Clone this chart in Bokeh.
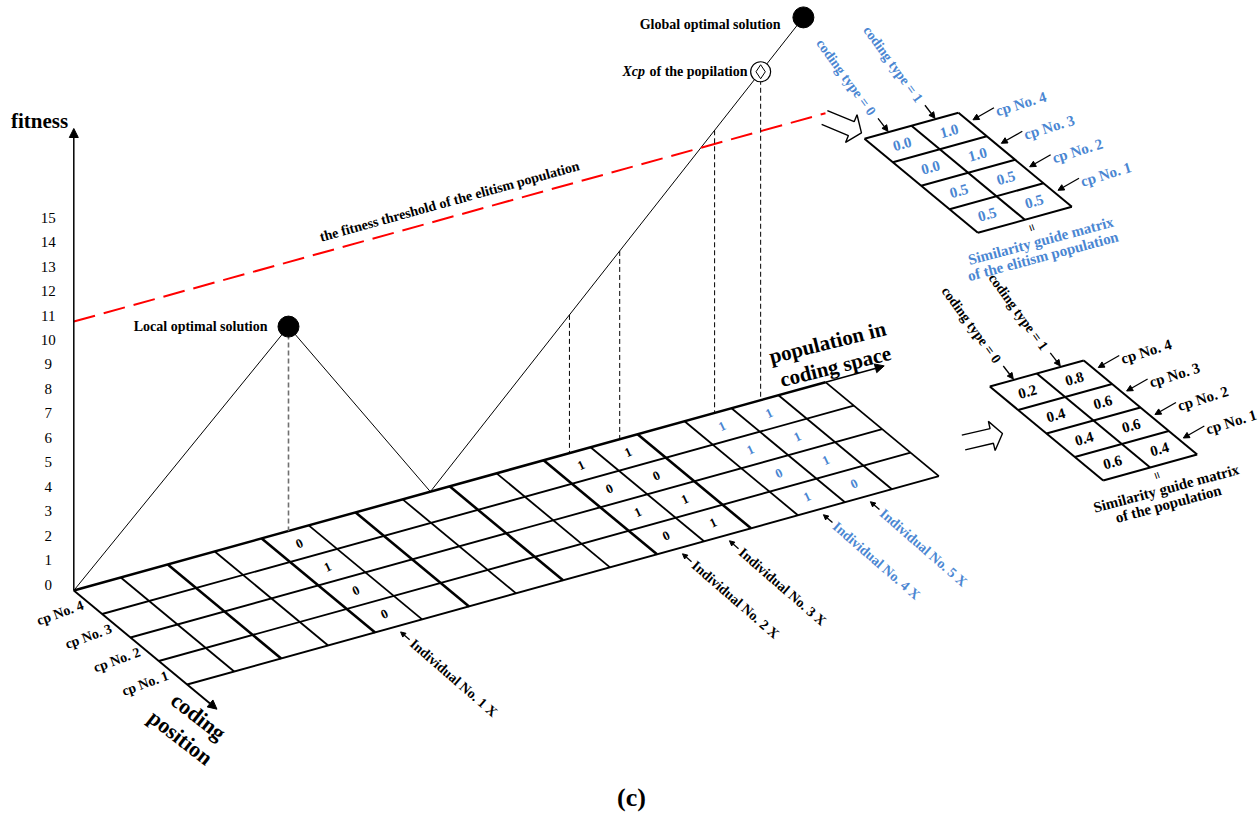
import numpy as np
from bokeh.plotting import figure
from bokeh.models import Range1d, Arrow, NormalHead
from bokeh.core.properties import value
from bokeh.embed import file_html
from bokeh.resources import INLINE

# ---------------- data ----------------
fitness_ticks = list(range(0, 16))
n_slots = 16
cp_names = ["cp No. 4", "cp No. 3", "cp No. 2", "cp No. 1"]
individual_names = ["Individual No. 1 X", "Individual No. 2 X", "Individual No. 3 X",
                    "Individual No. 4 X", "Individual No. 5 X"]
individual_slots = [4, 10, 11, 13, 14]
individual_codes = [[0, 1, 0, 0], [1, 0, 1, 0], [1, 0, 1, 1], [1, 1, 0, 1], [1, 1, 1, 0]]
individual_is_elite = [False, False, False, True, True]
thick_slot_lines = [2, 4, 6, 8, 10, 12]
fitness_curve_pos = [0.0, 4.57, 7.59, 15.53]
fitness_curve_val = [0.0, 8.36, 0.0, 15.17]
fitness_threshold = 11.0
local_opt_pos = 4.57
xcp_pos = 14.62
projection_pos = [10.55, 11.62, 13.64, 14.62]
coding_types = ["coding type = 0", "coding type = 1"]
pop_sim_type0 = [0.2, 0.4, 0.4, 0.6]
pop_sim_type1 = [0.8, 0.6, 0.6, 0.4]
elite_sim_type0 = [0.0, 0.0, 0.5, 0.5]
elite_sim_type1 = [1.0, 1.0, 0.5, 0.5]

BLUE = "#4a86d2"
FONT = value("Liberation Serif")

# ---------------- geometry (reference pixel space, y down) ----------------
W, H = 1258, 813
O = np.array([73.3, 590.0])
CV = np.array([46.98, -13.02])
RV = np.array([28.35, 23.5])
FS = 24.45
ELITE_O = np.array([864.0, 138.3])
POP_O = np.array([989.3, 386.0])


def P(u, r, f=0.0, origin=O):
    q = origin + u * CV + r * RV
    return (float(q[0]), float(q[1] - f * FS))


p = figure(width=W, height=H, x_range=Range1d(0, W), y_range=Range1d(0, H),
           output_backend="svg", toolbar_location=None, min_border=0,
           x_axis_location=None, y_axis_location=None)
p.grid.visible = False
p.outline_line_color = None
p.background_fill_color = "white"
p.border_fill_color = "white"


def line(pts, color="black", width=1.8, dash="solid", alpha=1.0):
    p.line([q[0] for q in pts], [H - q[1] for q in pts], line_color=color,
           line_width=width, line_dash=dash, line_alpha=alpha)


def arrow(a, b, size=8, width=1.5, color="black"):
    p.add_layout(Arrow(end=NormalHead(size=size, fill_color=color, line_color=color, line_width=1),
                       x_start=a[0], y_start=H - a[1], x_end=b[0], y_end=H - b[1],
                       line_width=width, line_color=color))


def txt(pt, s, size=13, angle=0, color="black", align="center", style="bold"):
    p.text(x=[pt[0]], y=[H - pt[1]], text=[s], angle=angle, angle_units="deg",
           text_font=FONT, text_font_style=style, text_font_size=f"{size}px",
           text_color=color, text_align=align, text_baseline="middle")


def add(a, b):
    return (a[0] + b[0], a[1] + b[1])


# ---------------- fitness axis ----------------
arrow(tuple(O), (73.3, 128), size=9, width=1.5)
for v in fitness_ticks:
    txt((47.7, O[1] - v * FS - 6), str(v), size=15, style="normal")
txt((39, 120), "fitness", size=21)

# ---------------- coding grid ----------------
for r in range(1, 5):
    line([P(0, r), P(n_slots, r)], width=1.9)
line([P(0, 0), P(n_slots, 0)], width=2.5)
for u in range(1, n_slots + 1):
    line([P(u, 0), P(u, 4)], width=2.6 if u in thick_slot_lines else 1.8)
arrow(P(0, 0), P(0, 5.05), size=9, width=1.9)
arrow(P(n_slots, 0), P(n_slots + 1.25, 0), size=9, width=1.6)

for ind, (slot, codes) in enumerate(zip(individual_slots, individual_codes)):
    col = BLUE if individual_is_elite[ind] else "black"
    for r, c in enumerate(codes):
        txt(P(slot + 0.5, r + 0.5), str(c), size=13, angle=25, color=col)

for r, name in enumerate(cp_names):
    txt(add(P(0, r + 1), (-42, -1)), name, size=14, angle=20)

ang = np.radians(-41)
d = np.array([np.cos(ang), -np.sin(ang)])
for ind, (slot, name) in enumerate(zip(individual_slots, individual_names)):
    col = BLUE if individual_is_elite[ind] else "black"
    tip = np.array(P(slot + 0.5, 4)) + np.array([2, 6])
    tail = tip + 12 * d
    arrow(tuple(tail), tuple(tip), size=5, width=1.3, color="black")
    txt(tuple(tip + 15 * d), name, size=14, angle=-41, color=col, align="left")

txt((827, 342), "population in", size=21, angle=14)
txt((835, 366), "coding space", size=21, angle=14)
txt((198, 716), "coding", size=22, angle=-38)
txt((180, 737), "position", size=22, angle=-38)

# ---------------- fitness landscape ----------------
curve = [P(u, 0, f) for u, f in zip(fitness_curve_pos, fitness_curve_val)]
line(curve, width=1.0)
line([P(0, 0, fitness_threshold), P(n_slots, 0, fitness_threshold)], color="red", width=2.0, dash="22 9")
txt((449, 201), "the fitness threshold of the elitism population", size=14, angle=15.5)

f_loc = float(np.interp(local_opt_pos, fitness_curve_pos, fitness_curve_val))
line([P(local_opt_pos, 0, f_loc), P(local_opt_pos, 0)], color="#707070", width=1.6, dash="5 3")
for u in projection_pos:
    f = float(np.interp(u, fitness_curve_pos, fitness_curve_val))
    line([P(u, 0, f), P(u, 0)], color="black", width=1.0, dash="5 3")

loc = P(local_opt_pos, 0, f_loc)
glob = P(fitness_curve_pos[-1], 0, fitness_curve_val[-1])
f_xcp = float(np.interp(xcp_pos, fitness_curve_pos, fitness_curve_val))
xcp = P(xcp_pos, 0, f_xcp)
p.scatter([loc[0], glob[0]], [H - loc[1], H - glob[1]], size=21, marker="circle",
          fill_color="black", line_color="black")
p.scatter([xcp[0]], [H - xcp[1]], size=20, marker="circle", fill_color="white",
          line_color="black", line_width=1.2)
p.scatter([xcp[0]], [H - xcp[1]], size=14, marker="diamond", fill_color="white",
          line_color="black", line_width=1.0)
txt((267, loc[1]), "Local optimal solution", size=14, align="right")
txt((780, glob[1] + 7), "Global optimal solution", size=14, align="right")
txt((622, xcp[1]), "Xcp", size=14, align="left", style="bold italic")
txt((747, xcp[1]), "of the popilation", size=14, align="right")


# ---------------- similarity guide matrices ----------------
def matrix(origin, t0, t1, color, title2):
    for r in range(5):
        line([P(0, r, origin=origin), P(2, r, origin=origin)], width=2.0)
    for u in range(3):
        line([P(u, 0, origin=origin), P(u, 4, origin=origin)], width=2.0)
    for r in range(4):
        txt(P(0.5, r + 0.5, origin=origin), f"{t0[r]:.1f}", size=15, angle=15.5, color=color)
        txt(P(1.5, r + 0.5, origin=origin), f"{t1[r]:.1f}", size=15, angle=15.5, color=color)
    for c, name in enumerate(coding_types):
        top = P(c + 0.5, 0, origin=origin)
        txt(add(top, (-42, -55)), name, size=14, angle=-54, color=color)
        arrow(add(top, (-10, -14)), add(top, (0, -1)), size=6, width=1.3)
    for r, name in enumerate(cp_names):
        tip = add(P(2, r + 0.3, origin=origin), (6, 0))
        arrow(add(tip, (21, -12)), tip, size=6, width=1.3)
        txt(add(tip, (48, -16)), name, size=15, angle=17, color=color)
    bm = P(1, 4, origin=origin)
    txt(add(bm, (7, 8)), "=", size=13, angle=-70)
    txt(add(bm, (16, 21)), "Similarity guide matrix", size=15, angle=15, color=color)
    txt(add(bm, (20, 36)), title2, size=15, angle=15, color=color)


matrix(ELITE_O, elite_sim_type0, elite_sim_type1, BLUE, "of  the elitism population")
matrix(POP_O, pop_sim_type0, pop_sim_type1, "black", "of  the population")


def hollow_arrow(anchor, ang_deg):
    loc_pts = [(0, 7.5), (29, 7.5), (29, 15), (40, 0), (29, -15), (29, -7.5), (0, -7.5)]
    a = np.radians(ang_deg)
    xs, ys = [], []
    for lx, ly in loc_pts:
        xs.append(anchor[0] + lx * np.cos(a) - ly * np.sin(a))
        ys.append(H - anchor[1] + lx * np.sin(a) + ly * np.cos(a))
    p.line(xs, ys, line_color="black", line_width=1.4)


hollow_arrow((824, 117), -22.5)
hollow_arrow((963, 442), 13)

txt((631, 797), "(c)", size=26)

open("out.html", "w").write(file_html(p, INLINE))
